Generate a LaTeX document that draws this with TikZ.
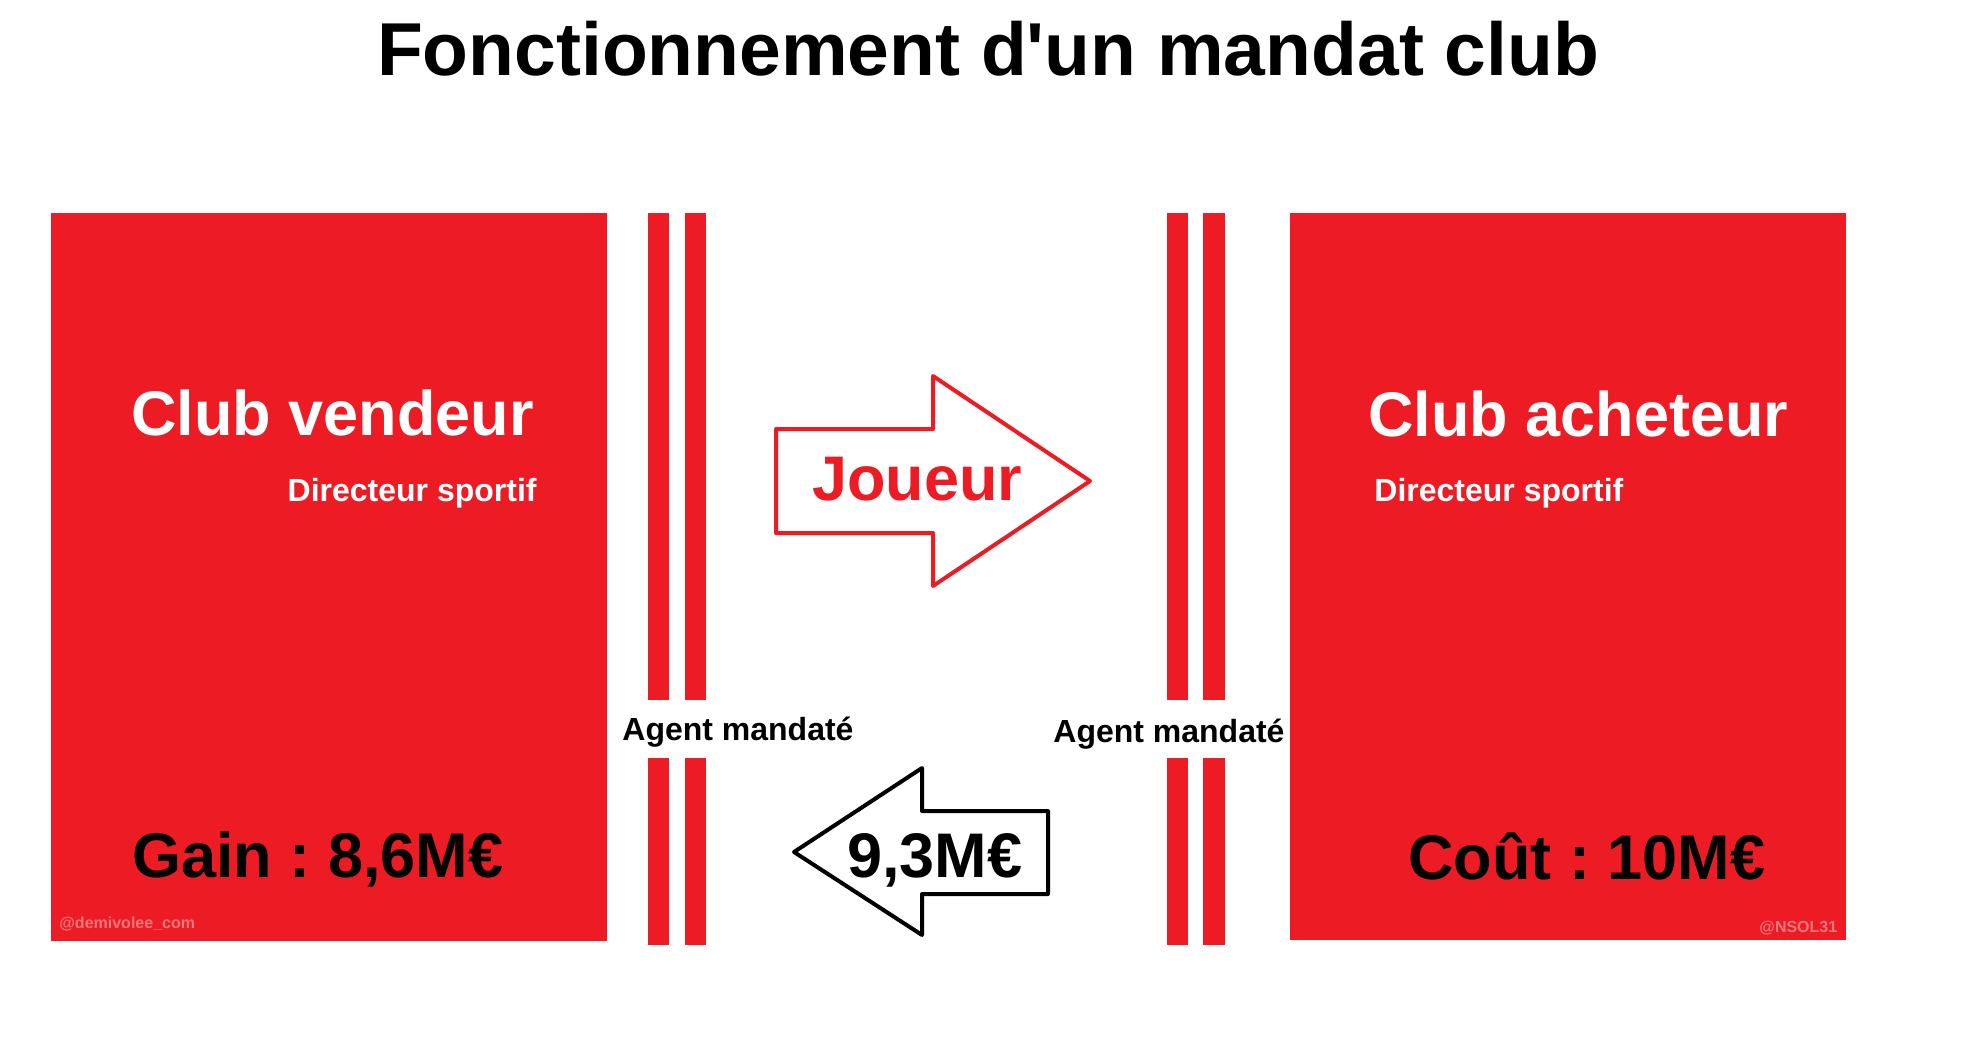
\documentclass[tikz,border=0pt]{standalone}
\usepackage{fontspec}
\setmainfont{Liberation Sans}
\frenchspacing
\definecolor{pred}{HTML}{ED1C24}
\definecolor{wmark}{HTML}{F4777C}
\tikzset{
  panel/.style={fill=pred},
  bar/.style={fill=pred},
  titletext/.style={inner sep=0pt, anchor=base, font=\fontsize{37.5}{40}\selectfont\bfseries},
  bigtext/.style={inner sep=0pt, anchor=base west, font=\fontsize{31.5}{34}\selectfont\bfseries},
  smalltext/.style={inner sep=0pt, anchor=base west, font=\fontsize{16}{18}\selectfont\bfseries},
  wmtext/.style={inner sep=0pt, anchor=base west, text=wmark, font=\fontsize{8}{9}\selectfont\bfseries},
  flowarrow/.style={line width=2pt, line join=round, fill=white}
}
\begin{document}
\begin{tikzpicture}[x=0.5pt,y=-0.5pt]
\useasboundingbox (0,0) rectangle (1982,1050);
\fill[white] (0,0) rectangle (1982,1050);

% title
\node[titletext] (title) at (988,75) {Fonctionnement d\textquotesingle un mandat club};

% panels
\fill[panel] (51,213) rectangle (607,941);
\fill[panel] (1290,213) rectangle (1846,940);

% agent stripes left
\fill[bar] (648,213) rectangle (669,700);
\fill[bar] (685,213) rectangle (706,700);
\fill[bar] (648,758) rectangle (669,945);
\fill[bar] (685,758) rectangle (706,945);
% agent stripes right
\fill[bar] (1167,213) rectangle (1188,700);
\fill[bar] (1203,213) rectangle (1225,700);
\fill[bar] (1167,758) rectangle (1188,945);
\fill[bar] (1203,758) rectangle (1225,945);

% panel texts
\node[bigtext, text=white] (sellclub) at (131,435) {Club vendeur};
\node[smalltext, text=white, anchor=base east] (selldir) at (537,501) {Directeur sportif};
\node[bigtext] (gain) at (132,877) {Gain : 8,6M€};
\node[wmtext] (wmleft) at (59,928) {@demivolee\_com};

\node[bigtext, text=white] (buyclub) at (1368,436) {Club acheteur};
\node[smalltext, text=white] (buydir) at (1374,501) {Directeur sportif};
\node[bigtext] (cost) at (1408,879) {Coût : 10M€};
\node[wmtext] (wmright) at (1759,932) {@NSOL31};

% agent labels
\node[smalltext] (agentL) at (622,740) {Agent mandaté};
\node[smalltext] (agentR) at (1053,742) {Agent mandaté};

% player arrow
\draw[flowarrow, draw=pred] (776,429) -- (933,429) -- (933,376) -- (1090,481)
  -- (933,586) -- (933,533) -- (776,533) -- cycle;
\node[bigtext, text=pred] (player) at (812,500) {Joueur};

% money arrow
\draw[flowarrow, draw=black] (1048,811) -- (922,811) -- (922,768) -- (794,852)
  -- (922,935) -- (922,894) -- (1048,894) -- cycle;
\node[bigtext] (money) at (847,877) {9,3M€};
\end{tikzpicture}
\end{document}
